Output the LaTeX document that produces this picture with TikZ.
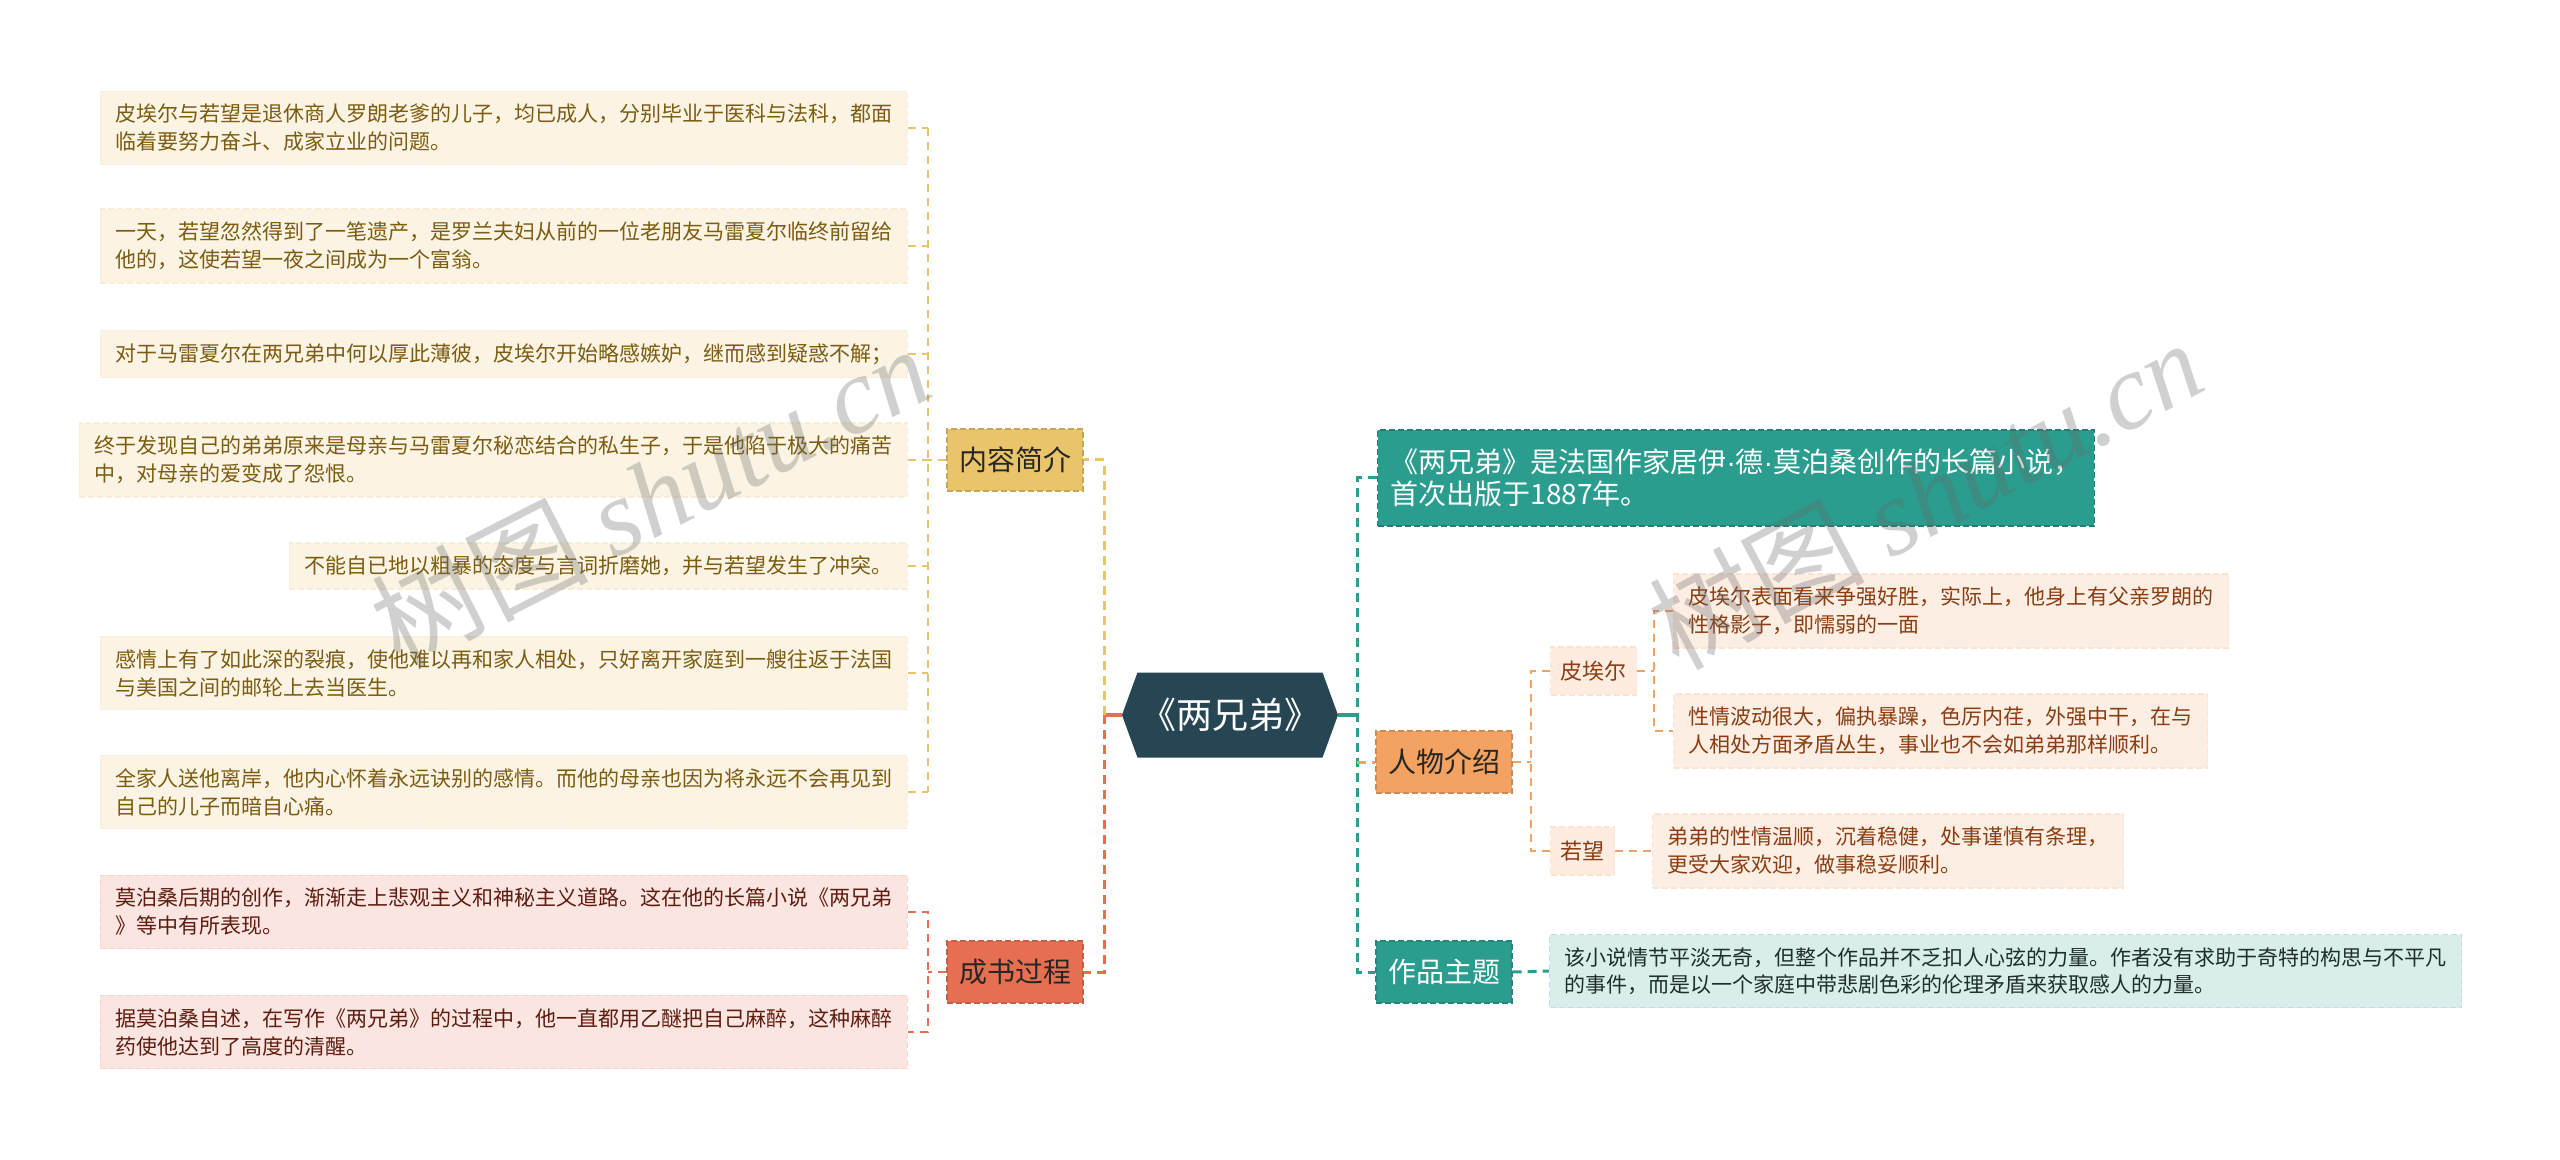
\documentclass[tikz,border=0pt]{standalone}
\usepackage{fontspec}
\setmainfont{Noto Sans CJK SC}
\newfontfamily\wmfont{Liberation Serif}
\newfontfamily\latinfont{Liberation Sans}
\usetikzlibrary{shapes.symbols,positioning}
\definecolor{cdark}{HTML}{264653}
\definecolor{cteal}{HTML}{2A9D8F}
\definecolor{cyel}{HTML}{E9C46A}
\definecolor{corg}{HTML}{F4A261}
\definecolor{cred}{HTML}{E76F51}
\definecolor{tyel}{HTML}{7C5C10}
\definecolor{tred}{HTML}{5E1D10}
\definecolor{torg}{HTML}{8A3D12}
\definecolor{tteal}{HTML}{1E2E2C}
\newcommand{\middot}{{\latinfont ·}}
\tikzset{
  root/.style    = {signal, signal to=west and east, signal pointer angle=140,
                    fill=cdark, text=white, minimum width=108pt, minimum height=42.5pt,
                    inner sep=0pt, font=\fontsize{18}{22}\selectfont},
  branch/.style  = {fill=#1, draw=#1!85!black, dash pattern=on 3pt off 1.5pt, line width=0.6pt,
                    minimum width=68pt, minimum height=31pt, inner sep=0pt,
                    font=\fontsize{14}{17}\selectfont},
  leaf/.style    = {fill=#1!18, draw=#1!30, dash pattern=on 3pt off 1.5pt, line width=0.6pt,
                    align=left, inner xsep=7.5pt, inner ysep=6.5pt,
                    font=\fontsize{10.5}{14}\selectfont},
  infobox/.style = {fill=cteal, draw=cteal!80!black, dash pattern=on 3pt off 1.5pt, line width=0.6pt,
                    text=white, align=left, inner xsep=6.5pt, inner ysep=9.5pt,
                    font=\fontsize{14}{16}\selectfont},
  who/.style     = {fill=corg!20, draw=corg!30, dash pattern=on 3pt off 1.5pt, line width=0.6pt,
                    text=torg, minimum height=24pt, inner xsep=5pt, inner ysep=0pt,
                    font=\fontsize{11}{13}\selectfont},
  trunk/.style   = {draw=#1, line width=1.5pt, dash pattern=on 4.5pt off 3pt},
  twig/.style    = {draw=#1, line width=0.75pt, dash pattern=on 4pt off 3pt},
  stem/.style    = {draw=#1, line width=1.6pt},
  wmark/.style   = {text=black!60, text opacity=0.3, inner sep=0pt,
                    font=\fontsize{54}{54}\selectfont},
}
\begin{document}
\begin{tikzpicture}[x=0.5pt, y=-0.5pt]
  \fill[white] (0,0) rectangle (2560,1160);
  \useasboundingbox (0,0) rectangle (2560,1160);

  % root and main branches
  \node[root] (root) at (1230,715) {《两兄弟》};
  \node[branch=cyel, text=black!85] (intro) at (1015,460) {内容简介};
  \node[branch=cred, text=black!85] (making) at (1015,972) {成书过程};
  \node[infobox, anchor=west] (about) at (1377,478)
    {《两兄弟》是法国作家居伊\middot 德\middot 莫泊桑创作的长篇小说，\\首次出版于1887年。};
  \node[branch=corg, text=black!85] (chars) at (1444,762) {人物介绍};
  \node[branch=cteal, text=white] (theme) at (1444,972) {作品主题};

  % summary leaves
  \node[leaf=cyel, text=tyel, anchor=east] (s1) at (908,128)
    {皮埃尔与若望是退休商人罗朗老爹的儿子，均已成人，分别毕业于医科与法科，都面\\临着要努力奋斗、成家立业的问题。};
  \node[leaf=cyel, text=tyel, anchor=east] (s2) at (908,246)
    {一天，若望忽然得到了一笔遗产，是罗兰夫妇从前的一位老朋友马雷夏尔临终前留给\\他的，这使若望一夜之间成为一个富翁。};
  \node[leaf=cyel, text=tyel, anchor=east] (s3) at (908,354)
    {对于马雷夏尔在两兄弟中何以厚此薄彼，皮埃尔开始略感嫉妒，继而感到疑惑不解；};
  \node[leaf=cyel, text=tyel, anchor=east] (s4) at (908,460)
    {终于发现自己的弟弟原来是母亲与马雷夏尔秘恋结合的私生子，于是他陷于极大的痛苦\\中，对母亲的爱变成了怨恨。};
  \node[leaf=cyel, text=tyel, anchor=east] (s5) at (908,566)
    {不能自已地以粗暴的态度与言词折磨她，并与若望发生了冲突。};
  \node[leaf=cyel, text=tyel, anchor=east] (s6) at (908,673)
    {感情上有了如此深的裂痕，使他难以再和家人相处，只好离开家庭到一艘往返于法国\\与美国之间的邮轮上去当医生。};
  \node[leaf=cyel, text=tyel, anchor=east] (s7) at (908,792)
    {全家人送他离岸，他内心怀着永远诀别的感情。而他的母亲也因为将永远不会再见到\\自己的儿子而暗自心痛。};

  % writing leaves
  \node[leaf=cred, text=tred, anchor=east] (w1) at (908,912)
    {莫泊桑后期的创作，渐渐走上悲观主义和神秘主义道路。这在他的长篇小说《两兄弟\\》等中有所表现。};
  \node[leaf=cred, text=tred, anchor=east] (w2) at (908,1032)
    {据莫泊桑自述，在写作《两兄弟》的过程中，他一直都用乙醚把自己麻醉，这种麻醉\\药使他达到了高度的清醒。};

  % characters
  \node[who, anchor=west] (pier) at (1550,671) {皮埃尔};
  \node[who, anchor=west] (jean) at (1550,851) {若望};
  \node[leaf=corg, text=torg, anchor=west] (p1) at (1673,611)
    {皮埃尔表面看来争强好胜，实际上，他身上有父亲罗朗的\\性格影子，即懦弱的一面};
  \node[leaf=corg, text=torg, anchor=west] (p2) at (1673,731)
    {性情波动很大，偏执暴躁，色厉内荏，外强中干，在与\\人相处方面矛盾丛生，事业也不会如弟弟那样顺利。};
  \node[leaf=corg, text=torg, anchor=west] (j1) at (1652,851)
    {弟弟的性情温顺，沉着稳健，处事谨慎有条理，\\更受大家欢迎，做事稳妥顺利。};

  % theme
  \node[leaf=cteal, text=tteal, anchor=west, font=\fontsize{10.5}{13.5}\selectfont] (t1) at (1549,971)
    {该小说情节平淡无奇，但整个作品并不乏扣人心弦的力量。作者没有求助于奇特的构思与不平凡\\的事件，而是以一个家庭中带悲剧色彩的伦理矛盾来获取感人的力量。};

  % junctions
  \coordinate (lroot) at (1104,715);
  \coordinate (rroot) at (1357,715);
  \coordinate (jsum) at (928,460);
  \coordinate (jwri) at (928,972);
  \coordinate (jchr) at (1531,762);
  \coordinate (jpie) at (1654,671);

  % left side
  \draw[stem=cred] (root.west) -- (lroot);
  \draw[trunk=cyel] (lroot) -- (lroot |- intro.east) -- (intro.east);
  \draw[trunk=cred] (lroot) -- (lroot |- making.east) -- (making.east);
  \draw[twig=cyel] (intro.west) -- (jsum);
  \draw[twig=cyel] (s1.east -| jsum) -- (s7.east -| jsum);
  \draw[twig=cyel] (s1.east) -- (s1.east -| jsum) (s2.east) -- (s2.east -| jsum)
                   (s3.east) -- (s3.east -| jsum) (s4.east) -- (s4.east -| jsum)
                   (s5.east) -- (s5.east -| jsum) (s6.east) -- (s6.east -| jsum)
                   (s7.east) -- (s7.east -| jsum);
  \draw[twig=cred] (making.west) -- (jwri);
  \draw[twig=cred] (w1.east) -- (w1.east -| jwri) -- (w2.east -| jwri) -- (w2.east);

  % right side
  \draw[stem=cteal] (root.east) -- (rroot);
  \draw[trunk=cteal] (about.west) -- (about.west -| rroot) -- (theme.west -| rroot) -- (theme.west);
  \draw[trunk=corg] (chars.west -| rroot) -- (chars.west);
  \draw[twig=corg] (chars.east) -- (jchr);
  \draw[twig=corg] (pier.west) -- (pier.west -| jchr) -- (jean.west -| jchr) -- (jean.west);
  \draw[twig=corg] (pier.east) -- (jpie);
  \draw[twig=corg] (p1.west) -- (p1.west -| jpie) -- (p2.west -| jpie) -- (p2.west);
  \draw[twig=corg] (jean.east) -- (j1.west);
  \draw[trunk=cteal] (theme.east) -- (t1.west);

  % watermarks
  \node[wmark, rotate=27] (wm1) at (650,495) {树图 {\wmfont\itshape shutu.cn}};
  \node[wmark, rotate=28] (wm2) at (1925,494) {树图 {\wmfont\itshape shutu.cn}};
\end{tikzpicture}
\end{document}
